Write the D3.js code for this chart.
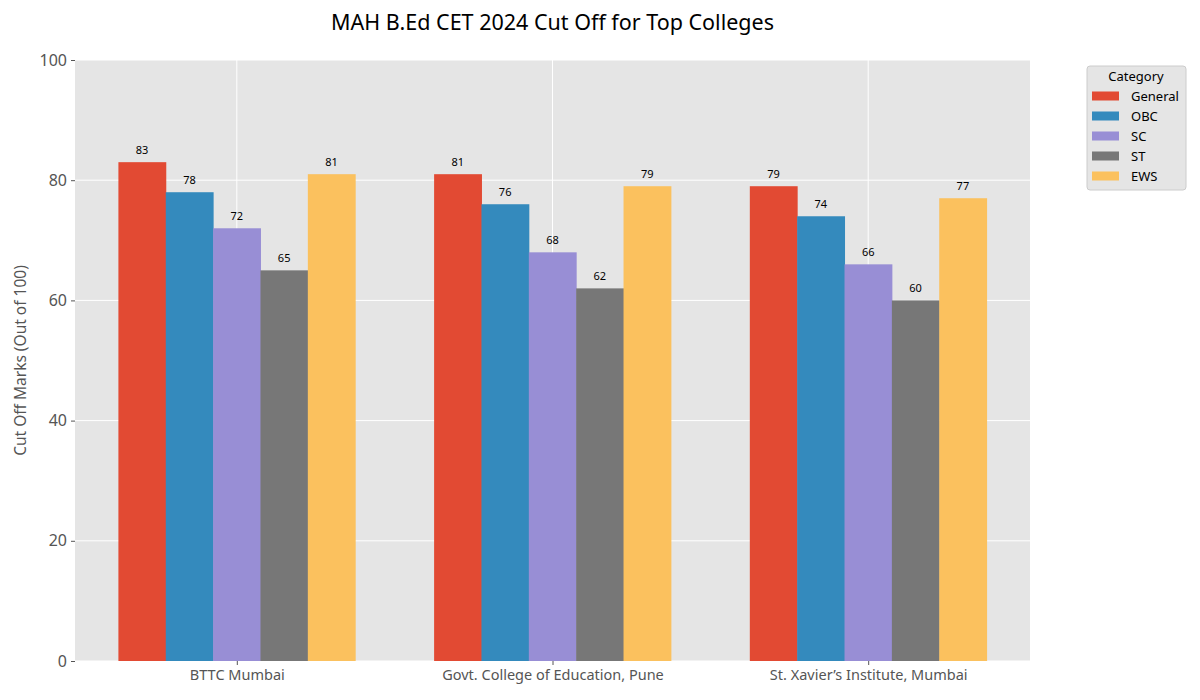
<!DOCTYPE html>
<html>
<head>
<meta charset="utf-8">
<script src="https://cdn.jsdelivr.net/npm/d3@7"></script>
<style>
body { margin: 0; background: #fff; }
text { font-family: "Noto Sans", "DejaVu Sans", sans-serif; }
</style>
</head>
<body>
<svg id="chart" width="1200" height="700"></svg>
<script>
// chart data
var colleges = ['BTTC Mumbai', 'Govt. College of Education, Pune', 'St. Xavier\u2019s Institute, Mumbai'];
var categories = ['General', 'OBC', 'SC', 'ST', 'EWS'];
var general = [83, 81, 79];
var obc = [78, 76, 74];
var sc = [72, 68, 66];
var st = [65, 62, 60];
var ews = [81, 79, 77];
var yTicks = [0, 20, 40, 60, 80, 100];
var colors = ['#E24A33', '#348ABD', '#988ED5', '#777777', '#FBC15E'];

var series = [general, obc, sc, st, ews];

var svg = d3.select('#chart');
// plot box (window.top is reserved, so no "top" here)
var pLeft = 75, pRight = 1030, pTop = 60, pBottom = 661;
var barW = 0.15;

// same limits matplotlib picks for 3 groups of 5 bars
var x = d3.scaleLinear().domain([-0.5125, 2.5125]).range([pLeft, pRight]);
var y = d3.scaleLinear().domain([0, 100]).range([pBottom, pTop]);

svg.append('rect')
	.attr('x', pLeft).attr('y', pTop)
	.attr('width', pRight-pLeft).attr('height', pBottom-pTop)
	.attr('fill', '#e5e5e5');

// grid
svg.append('g').selectAll('line')
	.data(yTicks)
	.enter().append('line')
	.attr('x1', pLeft).attr('x2', pRight)
	.attr('y1', function(d){ return y(d); })
	.attr('y2', function(d){ return y(d); })
	.attr('stroke', '#fff').attr('stroke-width', 1);
svg.append('g').selectAll('line')
	.data(colleges)
	.enter().append('line')
	.attr('x1', function(d, i){ return x(i); })
	.attr('x2', function(d, i){ return x(i); })
	.attr('y1', pTop).attr('y2', pBottom)
	.attr('stroke', '#fff').attr('stroke-width', 1);

// bars
series.forEach(function(vals, s){
	var off = (s-2)*barW;
	svg.append('g').selectAll('rect')
		.data(vals)
		.enter().append('rect')
		.attr('x', function(d, i){ return x(i+off-barW/2); })
		.attr('width', function(){ return x(barW)-x(0)+0.5; })
		.attr('y', function(d){ return y(d); })
		.attr('height', function(d){ return y(0)-y(d); })
		.attr('fill', colors[s]);
	svg.append('g').selectAll('text')
		.data(vals)
		.enter().append('text')
		.attr('x', function(d, i){ return x(i+off); })
		.attr('y', function(d){ return y(d)-8; })
		.attr('text-anchor', 'middle')
		.attr('font-size', '11px')
		.attr('fill', '#000')
		.text(function(d){ return d; });
});

// axes
var yAxis = d3.axisLeft(y).tickValues(yTicks).tickSize(4).tickPadding(4);
var gy = svg.append('g').attr('transform', 'translate('+pLeft+',0)').call(yAxis);
var xAxis = d3.axisBottom(x).tickValues([0, 1, 2]).tickSize(4).tickPadding(5)
	.tickFormat(function(d){ return colleges[d]; });
var gx = svg.append('g').attr('transform', 'translate(0,'+pBottom+')').call(xAxis);
gy.select('.domain').remove();
gx.select('.domain').remove();
gy.selectAll('line').attr('stroke', '#555');
gx.selectAll('line').attr('stroke', '#555');
gy.selectAll('text').attr('font-size', '16px').attr('fill', '#555').style('font-family', '"Noto Sans", sans-serif');
gx.selectAll('text').attr('font-size', '14.5px').attr('fill', '#555').style('font-family', '"Noto Sans", sans-serif');

// titles
svg.append('text')
	.attr('x', (pLeft+pRight)/2).attr('y', 30)
	.attr('text-anchor', 'middle')
	.attr('font-size', '21.5px').attr('fill', '#000')
	.text('MAH B.Ed CET 2024 Cut Off for Top Colleges');
svg.append('text')
	.attr('transform', 'translate(26,'+((pTop+pBottom)/2)+') rotate(-90)')
	.attr('text-anchor', 'middle')
	.attr('font-size', '15.5px').attr('fill', '#555')
	.text('Cut Off Marks (Out of 100)');

// legend
var lg = svg.append('g');
lg.append('rect')
	.attr('x', 1087).attr('y', 66).attr('width', 99).attr('height', 124)
	.attr('rx', 3)
	.attr('fill', '#e5e5e5').attr('stroke', '#cccccc');
lg.append('text')
	.attr('x', 1136).attr('y', 81)
	.attr('text-anchor', 'middle')
	.attr('font-size', '13px').attr('fill', '#000')
	.text('Category');
var items = lg.selectAll('.item')
	.data(categories)
	.enter().append('g')
	.attr('transform', function(d, i){ return 'translate(0,'+(96+i*20)+')'; });
items.append('rect')
	.attr('x', 1092).attr('y', -4.5).attr('width', 27).attr('height', 9)
	.attr('fill', function(d, i){ return colors[i]; });
items.append('text')
	.attr('x', 1131).attr('y', 4.5)
	.attr('font-size', '13px').attr('fill', '#000')
	.text(function(d){ return d; });
</script>
</body>
</html>
